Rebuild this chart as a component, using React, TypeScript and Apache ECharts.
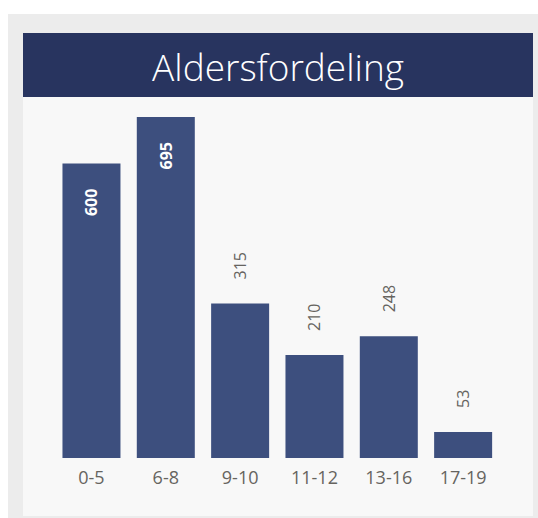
import React, { useEffect, useRef } from "react";
import * as echarts from "echarts";

const categories = ["0-5", "6-8", "9-10", "11-12", "13-16", "17-19"];
const values = [600, 695, 315, 210, 248, 53];
const insideLabelThreshold = 500;
const titleText = "Aldersfordeling";

export default function App() {
  const ref = useRef<HTMLDivElement>(null);
  useEffect(() => {
    if (!ref.current) return;
    const chart = echarts.init(ref.current, undefined, { renderer: "svg" });
    const labelFont = "'Open Sans', 'Noto Sans', sans-serif";
    chart.setOption({
      animation: false,
      graphic: [
        { type: "rect", z: -10, shape: { x: 8, y: 14, width: 530, height: 504 }, style: { fill: "#ececec" }, silent: true },
        { type: "rect", z: -9, shape: { x: 23, y: 33, width: 510, height: 483 }, style: { fill: "#f8f8f8" }, silent: true },
        { type: "rect", z: -8, shape: { x: 23, y: 33, width: 510, height: 64 }, style: { fill: "#28345f" }, silent: true },
        {
          type: "text",
          z: 10,
          x: 278,
          y: 66,
          style: {
            text: titleText,
            fill: "#ffffff",
            fontSize: 37,
            fontWeight: 300,
            fontFamily: "'Open Sans', sans-serif",
            textAlign: "center",
            textVerticalAlign: "middle",
          },
        },
      ],
      grid: { left: 54.3, right: 37.7, top: 117, bottom: 60 },
      xAxis: {
        type: "category",
        data: categories,
        axisLine: { show: false },
        axisTick: { show: false },
        axisLabel: { color: "#66645f", fontSize: 18, margin: 10, fontFamily: labelFont },
      },
      yAxis: { type: "value", min: 0, max: 695, show: false, splitLine: { show: false } },
      series: [
        {
          type: "bar",
          barWidth: 58,
          itemStyle: { color: "#3d4f7e" },
          data: values.map((v) =>
            v > insideLabelThreshold
              ? {
                  value: v,
                  label: {
                    show: true,
                    position: "insideTop",
                    rotate: 90,
                    align: "right",
                    verticalAlign: "middle",
                    distance: 25,
                    color: "#ffffff",
                    fontWeight: "bold",
                    fontSize: 16,
                    fontFamily: labelFont,
                  },
                }
              : {
                  value: v,
                  label: {
                    show: true,
                    position: "top",
                    rotate: 90,
                    align: "left",
                    verticalAlign: "middle",
                    distance: 24,
                    color: "#66645f",
                    fontSize: 16,
                    fontFamily: labelFont,
                  },
                }
          ),
        },
      ],
    });
    return () => chart.dispose();
  }, []);
  return <div ref={ref} style={{ position: "fixed", left: 0, top: 0, width: 538, height: 518, background: "#ffffff" }} />;
}
